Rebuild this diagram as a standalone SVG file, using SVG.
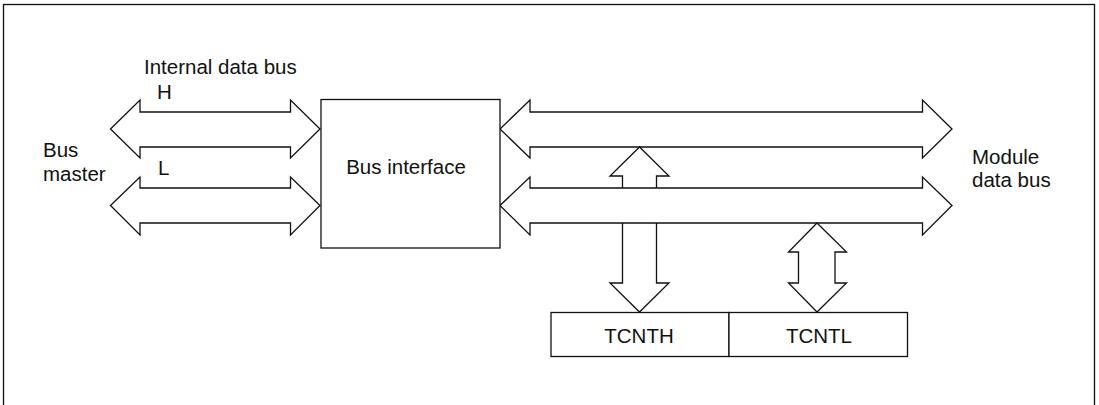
<svg xmlns="http://www.w3.org/2000/svg" width="1099" height="405" viewBox="0 0 1099 405">
<style>
.ln{fill:none;stroke:#111;stroke-width:1.3;stroke-linejoin:miter}
.bx{fill:#fff;stroke:#111;stroke-width:1.3}
text{font-family:"Liberation Sans",Arial,sans-serif;font-size:20.5px;fill:#111}
.c{text-anchor:middle}
</style>
<rect x="0" y="0" width="1099" height="405" fill="#fff"/>
<rect id="frame" x="3.5" y="4.5" width="1091" height="420" class="ln"/>
<g id="labels">
<text x="144" y="74">Internal data bus</text>
<text x="157" y="99">H</text>
<text x="158" y="175">L</text>
<text x="43" y="157">Bus</text>
<text x="43" y="181">master</text>
<text x="972" y="164">Module</text>
<text x="972" y="187">data bus</text>
</g>
<g id="connectors">
<polygon class="ln" points="110.5,129 140,100 140,112 290.5,112 290.5,100 320,129 290.5,158 290.5,147 140,147 140,158"/>
<polygon class="ln" points="110.5,205.5 140,177 140,188 290.5,188 290.5,177 320,205.5 290.5,235 290.5,223 140,223 140,235"/>
<polygon class="ln" points="500,129 530,100 530,112 922.5,112 922.5,100 952,129 922.5,158 922.5,147 530,147 530,158"/>
<polygon class="ln" points="500,205.5 530,177 530,188 922.5,188 922.5,177 952,205.5 922.5,235 922.5,223 530,223 530,235"/>
<polyline class="ln" points="622.5,188 622.5,176 610,176 639.5,147 669,176 656.5,176 656.5,188"/>
<polyline class="ln" points="622.5,223 622.5,283 610,283 639.5,312 669,283 656.5,283 656.5,223"/>
<polygon class="ln" points="817,223 846.5,252 835,252 835,283 846.5,283 817,312 788.5,283 798.5,283 798.5,252 788.5,252"/>
</g>
<g id="bus-interface">
<rect class="bx" x="321" y="99.5" width="179" height="148.5"/>
<text class="c" x="406" y="174">Bus interface</text>
</g>
<g id="tcnth">
<rect class="bx" x="551" y="312.5" width="178" height="44"/>
<text class="c" x="639" y="343">TCNTH</text>
</g>
<g id="tcntl">
<rect class="bx" x="729" y="312.5" width="178.5" height="44"/>
<text class="c" x="819" y="343">TCNTL</text>
</g>
</svg>
